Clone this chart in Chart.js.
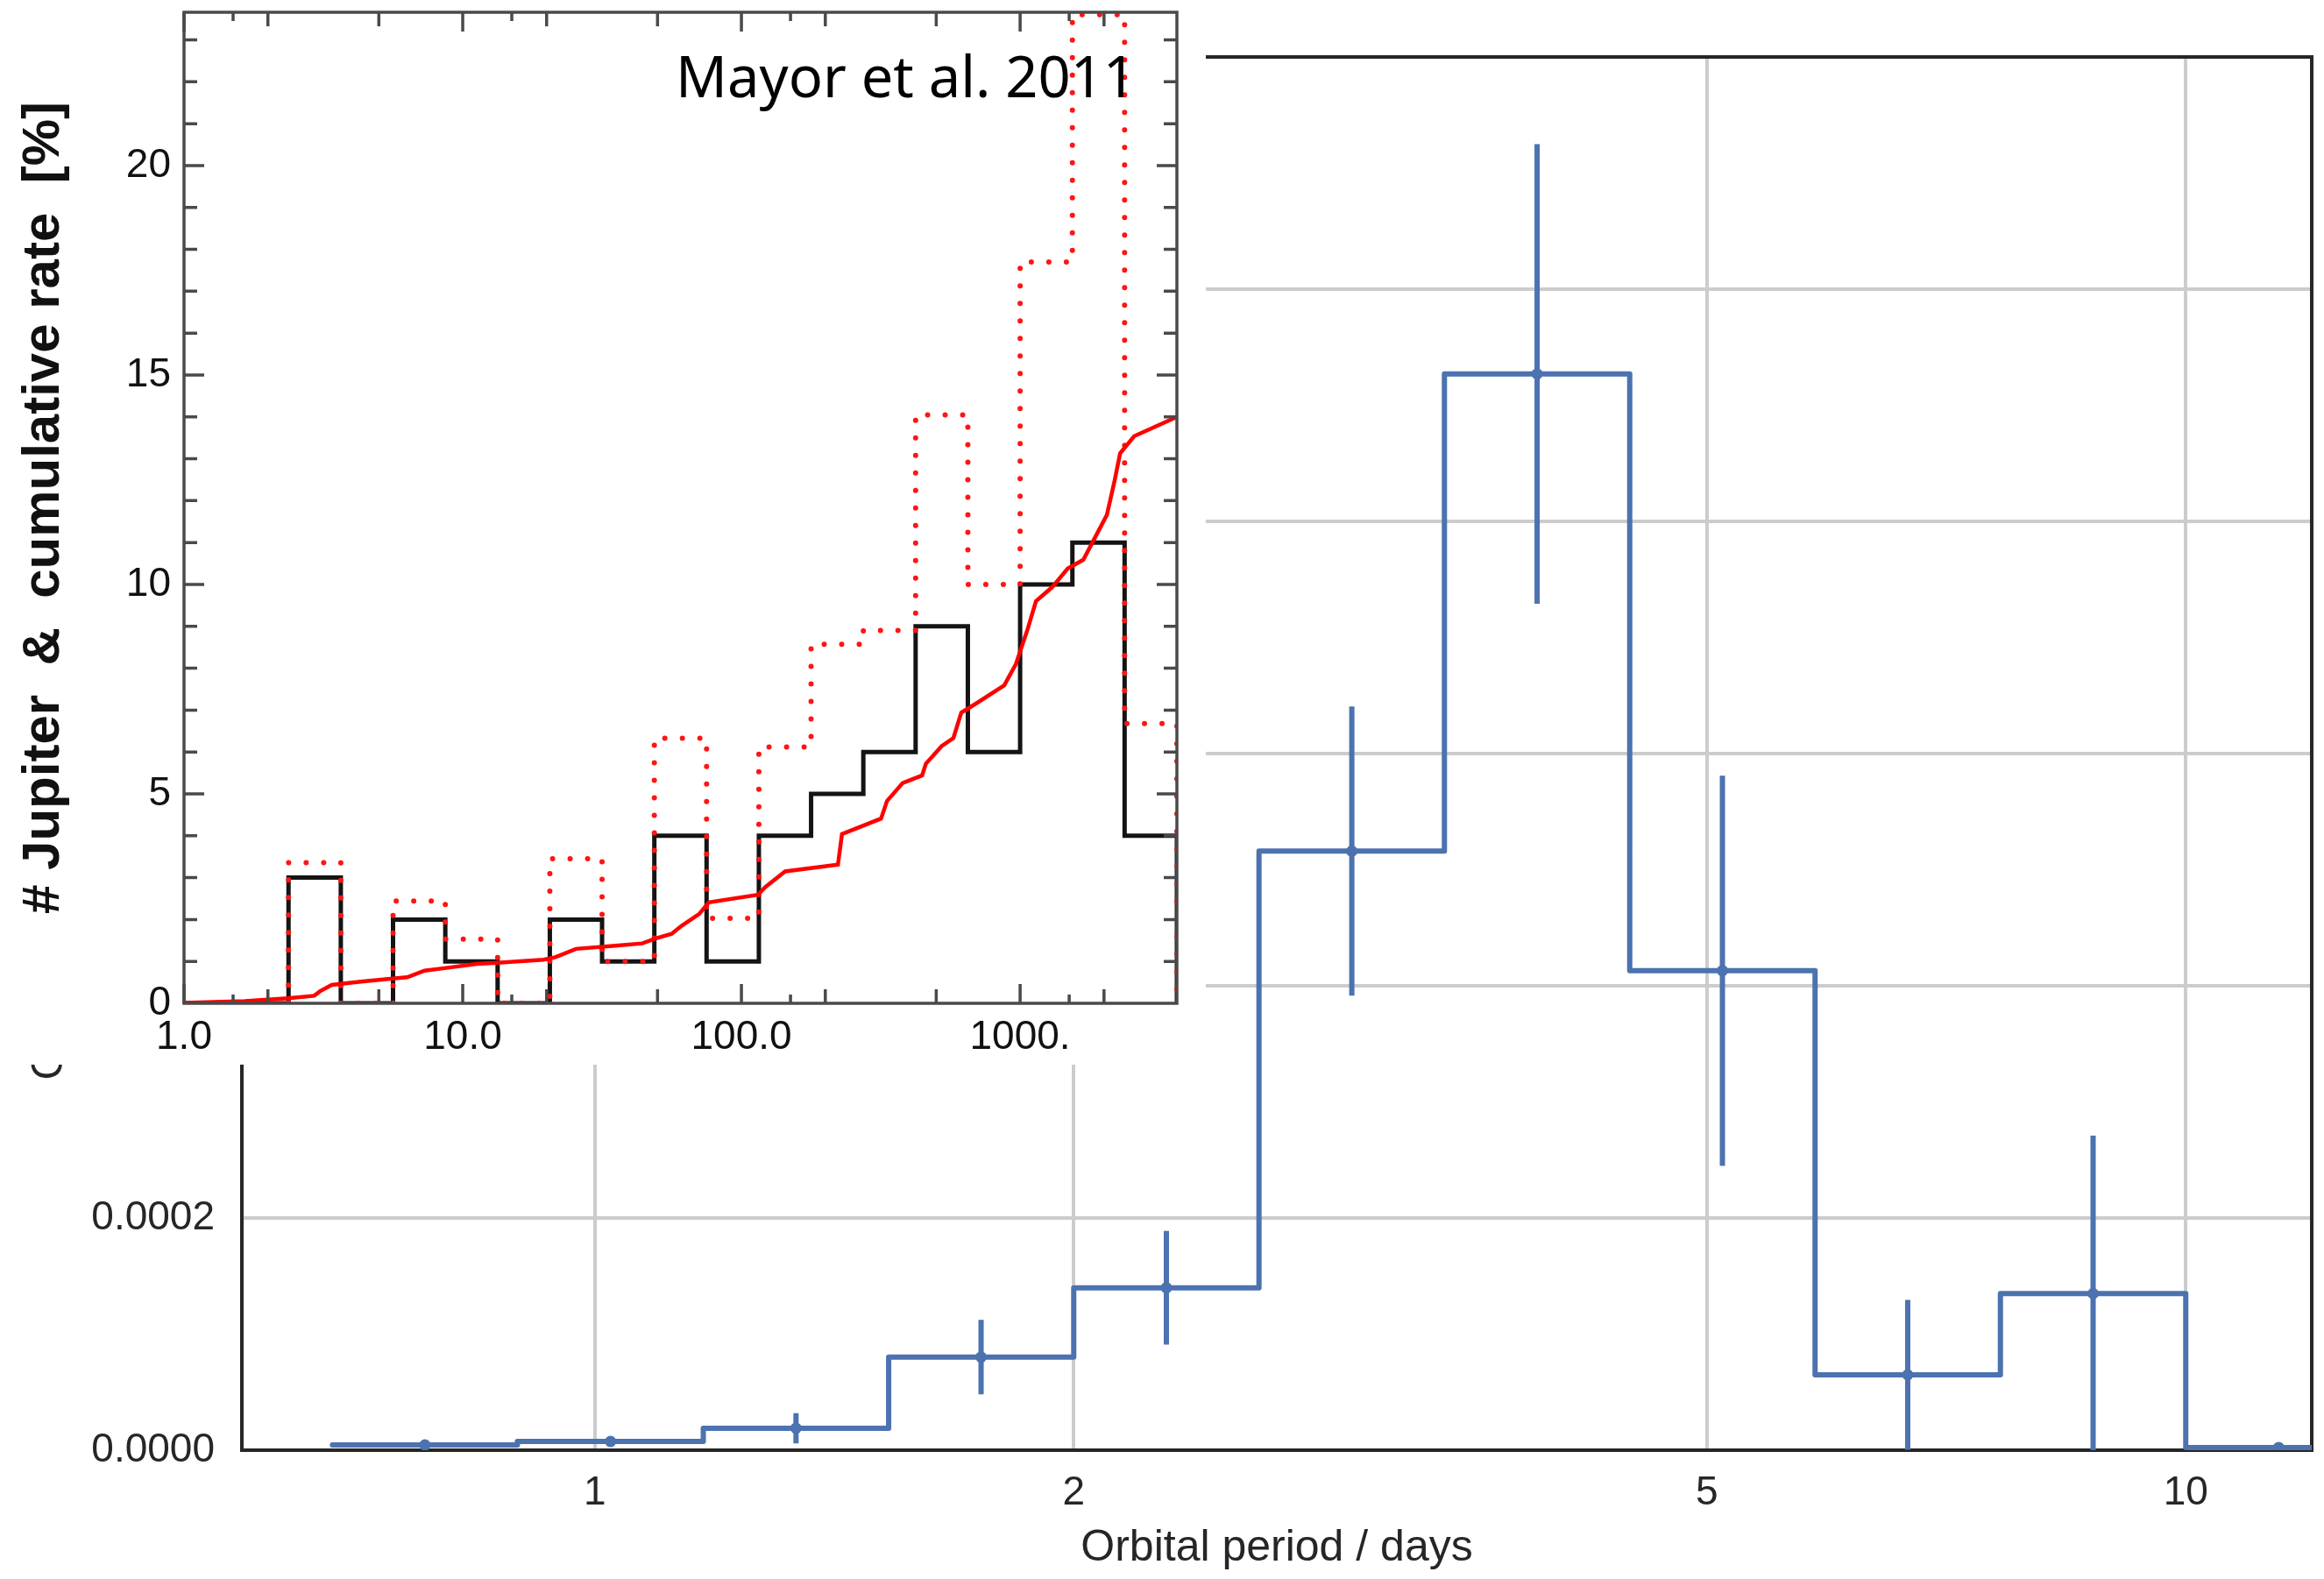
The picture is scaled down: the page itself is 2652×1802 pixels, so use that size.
<!DOCTYPE html>
<html lang="en">
<head>
<meta charset="UTF-8">
<title>Hot Jupiter occurrence vs orbital period</title>
<script src="https://cdn.jsdelivr.net/npm/chart.js"></script>
<style>
  html, body { margin: 0; padding: 0; background: #fff; }
  #wrap { position: relative; width: 2652px; height: 1802px; }
  #mainChart { position: absolute; left: 0; top: 0; background: #fff; }
  #insetChart { position: absolute; left: 0; top: 0; background: #fff; }
</style>
</head>
<body>
<div id="wrap">
  <canvas id="mainChart" width="2652" height="1802"></canvas>
  <canvas id="insetChart" width="1376" height="1215"></canvas>
</div>
<script>
// main histogram: occurrence rate per log-period bin, with 1-sigma errors
var periodEdges = [0.684, 0.894, 1.170, 1.530, 2.000, 2.615, 3.420, 4.472, 5.848, 7.647, 10.00, 13.08];
var binCenters  = [0.782, 1.023, 1.338, 1.749, 2.287, 2.991, 3.911, 5.114, 6.687, 8.745, 11.44];
var rate        = [0.0000045, 0.0000075, 0.0000189, 0.0000802, 0.0001399, 0.000516, 0.000927, 0.000413, 0.0000649, 0.0001349, 0.0000023];
var rateErr     = [0.0000025, 0.0000040, 0.0000130, 0.0000321, 0.0000490, 0.0001245, 0.000198, 0.000168, 0.0000646, 0.000136, 0.0000020];
var periodTicks = [1, 2, 5, 10];

// inset: Mayor et al. 2011 giant planet histogram (days)
var mayorEdges = [1.000, 1.540, 2.371, 3.652, 5.623, 8.660, 13.34, 20.54, 31.62, 48.70, 74.99,
                  115.5, 177.8, 273.8, 421.7, 649.4, 1000, 1540, 2371, 3652];
var jupiterCounts   = [0, 0, 3, 0, 2, 1, 0, 2, 1, 4, 1, 4, 5, 6, 9, 6, 10, 11, 4];
var correctedCounts = [0, 0, 3.36, 0, 2.44, 1.53, 0, 3.45, 1.0, 6.33, 2.03, 6.12, 8.57, 8.90, 14.05, 10.0, 17.70, 23.6, 6.68];
var cumPeriod = [1.0, 1.65, 2.36, 2.93, 3.08, 3.39, 4.31, 5.61, 6.32, 7.30, 8.85, 11.25, 13.3, 19.5, 21.5, 25.5,
                 34.6, 44.1, 49.4, 56.2, 61, 70.5, 76.4, 114.5, 122, 143.5, 222, 229.5, 317, 333, 379, 445,
                 459, 523, 576, 615, 700, 877, 966, 1065, 1140, 1301, 1482, 1686, 2048, 2183, 2285, 2566, 3652];
var cumRate   = [0.01, 0.05, 0.12, 0.18, 0.29, 0.44, 0.52, 0.59, 0.62, 0.78, 0.85, 0.94, 0.97, 1.04, 1.10, 1.30,
                 1.37, 1.43, 1.55, 1.66, 1.85, 2.13, 2.41, 2.59, 2.78, 3.15, 3.31, 4.04, 4.41, 4.83, 5.26, 5.44,
                 5.72, 6.14, 6.33, 6.94, 7.17, 7.59, 8.10, 8.94, 9.60, 9.93, 10.38, 10.59, 11.66, 12.48, 13.13, 13.54, 14.0];
var insetTicks      = [1, 10, 100, 1000];
var insetTickLabels = ['1.0', '10.0', '100.0', '1000.'];
var insetMidTicks   = [2, 5, 20, 50, 200, 500, 2000];
var insetSmallTicks = [1.5, 15, 150, 1500];
var countTicks      = [0, 5, 10, 15, 20];

Chart.defaults.font.family = '"Liberation Sans", Arial, sans-serif';

var blue = '#4c72b0';
var ink = '#262626';

// histogram outline: each bin value held from its left edge to the next one
function stepPoints(edges, vals) {
    var pts = vals.map(function (v, i) { return { x: edges[i], y: v }; });
    pts.push({ x: edges[vals.length], y: vals[vals.length - 1] });
    return pts;
}

function closedSteps(edges, vals) {
    var pts = stepPoints(edges, vals);
    pts.push({ x: edges[vals.length], y: 0 });
    return pts;
}

// keep label overhang from pushing the plot area around
function fixSize(w, h) {
    return function (s) {
        if (w !== null) s.width = w;
        if (h !== null) s.height = h;
        s.paddingTop = 0; s.paddingBottom = 0;
        s.paddingLeft = 0; s.paddingRight = 0;
    };
}

// vertical error bars, separated by null gaps
var errPoints = [];
binCenters.forEach(function (c, i) {
    errPoints.push({ x: c, y: Math.max(0, rate[i] - rateErr[i]) });
    errPoints.push({ x: c, y: rate[i] + rateErr[i] });
    errPoints.push({ x: c, y: null });
});

new Chart(document.getElementById('mainChart'), {
    type: 'line',
    data: {
        datasets: [{
            data: stepPoints(periodEdges, rate),
            borderColor: blue, borderWidth: 6, stepped: true, pointRadius: 0,
            borderJoinStyle: 'round', borderCapStyle: 'round', order: 3
        }, {
            data: errPoints,
            borderColor: blue, borderWidth: 6, pointRadius: 0, spanGaps: false,
            borderCapStyle: 'butt', order: 2
        }, {
            data: binCenters.map(function (c, i) { return { x: c, y: rate[i] }; }),
            showLine: false, pointRadius: 6.5, pointBackgroundColor: blue, pointBorderWidth: 0, order: 1
        }]
    },
    options: {
        responsive: false,
        animation: false,
        devicePixelRatio: 1,
        layout: { padding: { top: 65, right: 14, left: 0, bottom: 0 } },
        plugins: { legend: { display: false }, tooltip: { enabled: false } },
        scales: {
            x: {
                type: 'logarithmic', min: 0.6, max: 12,
                afterBuildTicks: function (s) { s.ticks = periodTicks.map(function (v) { return { value: v }; }); },
                afterFit: fixSize(null, 147),
                grid: { color: '#cccccc', lineWidth: 4, drawTicks: false },
                border: { display: true, color: ink, width: 4 },
                ticks: {
                    callback: function (v) { return String(v); },
                    color: ink, font: { size: 46 }, padding: 22, maxRotation: 0, autoSkip: false
                },
                title: {
                    display: true, text: 'Orbital period / days', color: ink,
                    font: { size: 50 }, padding: { top: 0, bottom: 5 }
                }
            },
            y: {
                min: 0, max: 0.0012,
                afterFit: fixSize(276, null),
                grid: { color: '#cccccc', lineWidth: 4, drawTicks: false },
                border: { display: true, color: ink, width: 4 },
                ticks: {
                    stepSize: 0.0002,
                    callback: function (v) { return v.toFixed(4); },
                    color: ink, font: { size: 46 }, padding: 31
                },
                title: {
                    display: true, text: 'Occurrence rate / planets per star', color: ink,
                    font: { size: 50 }, padding: { top: 27, bottom: 0 }
                }
            },
            xTop: {
                type: 'logarithmic', position: 'top', min: 0.6, max: 12,
                afterFit: fixSize(null, 0),
                grid: { display: false, drawTicks: false },
                ticks: { display: false },
                border: { display: true, color: ink, width: 4 }
            },
            yRight: {
                position: 'right', min: 0, max: 0.0012,
                afterFit: fixSize(0, null),
                grid: { display: false, drawTicks: false },
                ticks: { display: false },
                border: { display: true, color: ink, width: 4 }
            }
        }
    }
});

// frame, inward tick marks and caption for the inset
var insetFrame = {
    id: 'insetFrame',
    afterDatasetsDraw: function (chart) {
        var ctx = chart.ctx, a = chart.chartArea, x = chart.scales.x, y = chart.scales.y;
        ctx.save();
        ctx.strokeStyle = '#4a4a4a';
        ctx.lineWidth = 3.5;
        ctx.beginPath();
        function xTick(v, len) {
            var px = x.getPixelForValue(v);
            ctx.moveTo(px, a.bottom); ctx.lineTo(px, a.bottom - len);
            ctx.moveTo(px, a.top); ctx.lineTo(px, a.top + len);
        }
        function yTick(v, len) {
            var py = y.getPixelForValue(v);
            ctx.moveTo(a.left, py); ctx.lineTo(a.left + len, py);
            ctx.moveTo(a.right, py); ctx.lineTo(a.right - len, py);
        }
        insetTicks.forEach(function (v) { xTick(v, 22); });
        insetMidTicks.forEach(function (v) { xTick(v, 16); });
        insetSmallTicks.forEach(function (v) { xTick(v, 10); });
        for (var k = 1; k <= 23; k++) {
            yTick(k, countTicks.indexOf(k) >= 0 ? 23 : 15);
        }
        ctx.stroke();
        ctx.strokeRect(a.left, a.top, a.right - a.left, a.bottom - a.top);

        ctx.fillStyle = '#000';
        ctx.font = '65px "Noto Sans", "Open Sans", sans-serif';
        ctx.textAlign = 'right';
        ctx.textBaseline = 'alphabetic';
        ctx.fillText('Mayor et al. 2011', 1296, 111);
        ctx.restore();
    }
};

new Chart(document.getElementById('insetChart'), {
    type: 'line',
    data: {
        datasets: [{
            data: closedSteps(mayorEdges, jupiterCounts),
            borderColor: '#141414', borderWidth: 5, stepped: true, pointRadius: 0, order: 3
        }, {
            data: closedSteps(mayorEdges, correctedCounts),
            borderColor: '#ff1414', borderWidth: 6, borderDash: [0, 20], borderCapStyle: 'round',
            stepped: true, pointRadius: 0, order: 2
        }, {
            data: cumPeriod.map(function (p, i) { return { x: p, y: cumRate[i] }; }),
            borderColor: '#ff0000', borderWidth: 4.5, pointRadius: 0, order: 1
        }]
    },
    options: {
        responsive: false,
        animation: false,
        devicePixelRatio: 1,
        layout: { padding: { top: 14, right: 33, left: 0, bottom: 0 } },
        plugins: { legend: { display: false }, tooltip: { enabled: false } },
        scales: {
            x: {
                type: 'logarithmic', min: 1, max: 3652,
                afterBuildTicks: function (s) { s.ticks = insetTicks.map(function (v) { return { value: v }; }); },
                afterFit: fixSize(null, 70),
                grid: { display: false, drawTicks: false },
                border: { display: false },
                ticks: {
                    callback: function (v, i) { return insetTickLabels[i]; },
                    color: '#111', font: { size: 46 }, padding: 12, maxRotation: 0, autoSkip: false
                }
            },
            y: {
                min: 0, max: 23.66,
                afterBuildTicks: function (s) { s.ticks = countTicks.map(function (v) { return { value: v }; }); },
                afterFit: fixSize(210, null),
                grid: { display: false, drawTicks: false },
                border: { display: false },
                ticks: {
                    callback: function (v) { return String(v); },
                    color: '#111', font: { size: 46 }, padding: 15
                },
                title: {
                    display: true, text: '# Jupiter  &  cumulative rate  [%]', color: '#111',
                    font: { size: 60, weight: 'bold' }, padding: { top: 14, bottom: 0 }
                }
            }
        }
    },
    plugins: [insetFrame]
});
</script>
</body>
</html>
